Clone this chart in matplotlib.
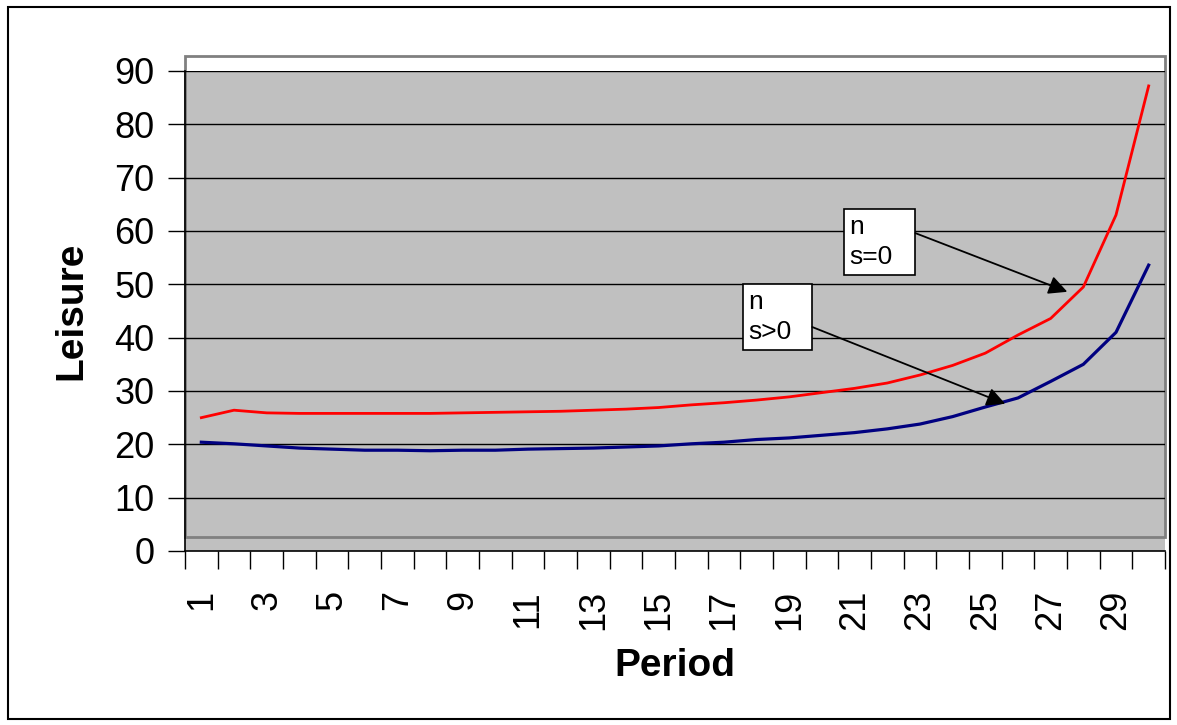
import matplotlib
matplotlib.use("Agg")
import matplotlib.pyplot as plt
from matplotlib.patches import Rectangle

plt.rcParams["font.family"] = ["Liberation Sans", "DejaVu Sans"]

# ---------------------------------------------------------------------------
# Data
# ---------------------------------------------------------------------------
periods = list(range(1, 31))
leisure_s0 = [25.0, 26.4, 25.9, 25.8, 25.8, 25.8, 25.8, 25.8, 25.9, 26.0,
              26.1, 26.2, 26.4, 26.6, 26.9, 27.4, 27.8, 28.3, 28.9, 29.7,
              30.5, 31.5, 33.0, 34.8, 37.1, 40.5, 43.6, 49.5, 63.0, 87.2]
leisure_spos = [20.4, 20.1, 19.7, 19.3, 19.1, 18.9, 18.9, 18.8, 18.9, 18.9,
                19.1, 19.2, 19.3, 19.5, 19.7, 20.1, 20.4, 20.9, 21.2, 21.7,
                22.2, 22.9, 23.8, 25.2, 27.0, 28.7, 31.8, 35.0, 41.0, 53.6]
xtick_labels = [str(p) for p in range(1, 30, 2)]

# ---------------------------------------------------------------------------
# Figure
# ---------------------------------------------------------------------------
fig = plt.figure(figsize=(11.77, 7.25), dpi=100)
ax = fig.add_axes([185 / 1177, 1 - 551 / 725, 980 / 1177, 480 / 725])
ax.set_facecolor("#C0C0C0")
ax.set_xlim(0.5, 30.5)
ax.set_ylim(0, 90)

# plot-area frame with the white strip above 90 (Excel style)
ax.add_patch(Rectangle((0.5, 90), 30, 2.8, facecolor="white", edgecolor="none",
                       clip_on=False, zorder=0))
ax.add_patch(Rectangle((0.5, 2.6), 30, 90.2, facecolor="none", edgecolor="#808080",
                       lw=2, clip_on=False, zorder=1))

for y in range(10, 100, 10):
    ax.axhline(y, color="black", lw=1, zorder=2)

ax.plot(periods, leisure_s0, color="red", lw=2, zorder=4)
ax.plot(periods, leisure_spos, color="#000080", lw=2.3, zorder=4)

# axes styling
for side in ("top", "right"):
    ax.spines[side].set_visible(False)
for side in ("left", "bottom"):
    ax.spines[side].set_color("black")
    ax.spines[side].set_linewidth(1.2)
    ax.spines[side].set_zorder(5)

ax.set_yticks(range(0, 100, 10))
ax.tick_params(axis="y", labelsize=26, length=12, width=1, pad=10, direction="out")
ax.set_xticks(range(1, 30, 2))
ax.set_xticklabels(xtick_labels, rotation=90, fontsize=26)
ax.set_xticks([i + 0.5 for i in range(0, 31)], minor=True)
ax.tick_params(axis="x", which="major", length=0, pad=28)
ax.tick_params(axis="x", which="minor", length=13, width=1)

ax.set_xlabel("Period", fontsize=28, fontweight="bold", labelpad=13)
ax.set_ylabel("Leisure", fontsize=28, fontweight="bold", labelpad=18)

# text boxes with arrows
def label_box(x0, x1, y0, y1, text):
    ax.add_patch(Rectangle((x0, y0), x1 - x0, y1 - y0, facecolor="white",
                           edgecolor="black", lw=1.2, zorder=6))
    ax.text(x0 + 0.15, (y0 + y1) / 2, text, fontsize=19, ha="left", va="center",
            linespacing=1.3, zorder=7)

label_box(20.68, 22.85, 51.75, 64.1, "n\ns=0")
label_box(17.59, 19.70, 37.69, 50.06, "n\ns>0")
arrow = dict(arrowstyle="-|>", color="black", lw=1.3, mutation_scale=28,
             shrinkA=0, shrinkB=0)
ax.annotate("", xy=(27.51, 48.6), xytext=(22.86, 59.6), arrowprops=arrow, zorder=6)
ax.annotate("", xy=(25.61, 27.6), xytext=(19.70, 42.0), arrowprops=arrow, zorder=6)

# chart-area border
fig.patches.append(Rectangle((8 / 1177, 1 - 719 / 725), 1162 / 1177, 712 / 725,
                             transform=fig.transFigure, facecolor="none",
                             edgecolor="black", lw=1.5))

fig.savefig("out.png", dpi=100)
